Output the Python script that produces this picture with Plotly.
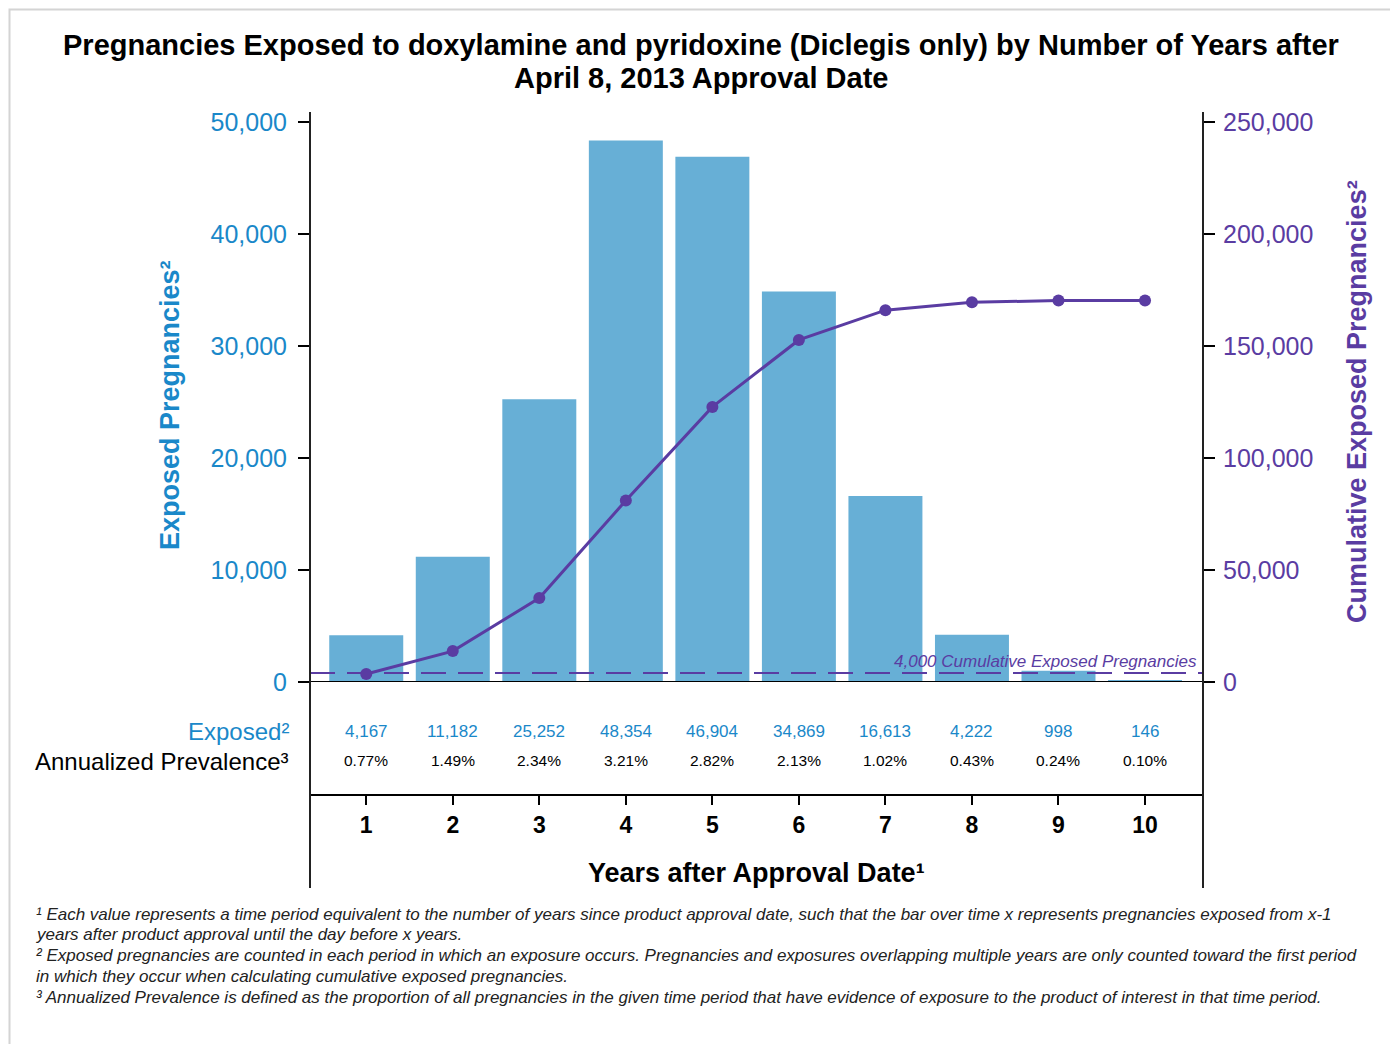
import plotly.graph_objects as go

years = [1, 2, 3, 4, 5, 6, 7, 8, 9, 10]
exposed = [4167, 11182, 25252, 48354, 46904, 34869, 16613, 4222, 998, 146]
cumulative = [3600, 13800, 37500, 81000, 122800, 152700, 166000, 169500, 170300, 170300]
prevalence = ["0.77%", "1.49%", "2.34%", "3.21%", "2.82%", "2.13%", "1.02%", "0.43%", "0.24%", "0.10%"]
threshold = 4000

title_lines = [
    "Pregnancies Exposed to doxylamine and pyridoxine (Diclegis only) by Number of Years after",
    "April 8, 2013 Approval Date",
]
footnotes = [
    "¹ Each value represents a time period equivalent to the number of years since product approval date, such that the bar over time x represents pregnancies exposed from x-1",
    "years after product approval until the day before x years.",
    "² Exposed pregnancies are counted in each period in which an exposure occurs. Pregnancies and exposures overlapping multiple years are only counted toward the first period",
    "in which they occur when calculating cumulative exposed pregnancies.",
    "³ Annualized Prevalence is defined as the proportion of all pregnancies in the given time period that have evidence of exposure to the product of interest in that time period.",
]

FONT = "Liberation Sans, Arial, sans-serif"
BLUE_TXT = "#1a88c9"
BAR = "#67afd6"
PURPLE = "#5a3ca2"

# page has an 8px body margin, so the figure is drawn 8px in from the window edge
OFF = 8
W, H = 1398 - OFF, 1044 - OFF
L, R, T, B = 310, 1203, 112, 888  # plot box in screen pixels


def px_y(y):
    return (B - y) / (B - T)


def px_x(x):
    return (x - L) / (R - L)


def label(x, y, text, size, color, xref="paper", xanchor="center", **kw):
    fig.add_annotation(xref=xref, yref="paper", x=x, y=px_y(y), text=text, showarrow=False,
                       xanchor=xanchor, yanchor="middle",
                       font=dict(family=FONT, size=size, color=color, style=kw.pop("style", "normal")), **kw)


fig = go.Figure()

fig.add_trace(go.Bar(x=years, y=exposed, marker=dict(color=BAR, line=dict(width=0)),
                     yaxis="y", showlegend=False))
fig.add_trace(go.Scatter(x=years, y=cumulative, mode="lines+markers", yaxis="y2",
                         line=dict(color=PURPLE, width=3),
                         marker=dict(color=PURPLE, size=12), showlegend=False))

# threshold line
fig.add_shape(type="line", xref="paper", yref="y2", x0=0, x1=1, y0=threshold, y1=threshold,
              line=dict(color=PURPLE, width=2, dash="25px,12px"))
fig.add_annotation(xref="paper", yref="y2", x=px_x(1199), y=threshold, xanchor="right", yanchor="bottom",
                   yshift=0, text="4,000 Cumulative Exposed Pregnancies", showarrow=False,
                   font=dict(family=FONT, size=17, color=PURPLE, style="italic"))

# frame lines
fig.add_shape(type="line", xref="paper", yref="y", x0=0, x1=1, y0=0, y1=0,
              line=dict(color="black", width=2))
for xx in (0, 1):
    fig.add_shape(type="line", xref="paper", yref="paper", x0=xx, x1=xx, y0=0, y1=1,
                  line=dict(color="#222", width=2))

# title
for txt, yy in zip(title_lines, [45, 78]):
    label(px_x(701), yy, f"<b>{txt}</b>", 29, "black")

# table rows
label(px_x(291), 731, "Exposed²", 24, BLUE_TXT, xanchor="right")
label(px_x(291), 761, "Annualized Prevalence³", 24, "black", xanchor="right")
for yr, e, p in zip(years, exposed, prevalence):
    label(yr, 731, f"{e:,}", 17, BLUE_TXT, xref="x")
    label(yr, 760, p, 15.5, "black", xref="x")

# axis titles
label(0.5, 873, "<b>Years after Approval Date¹</b>", 27, "black")
label(px_x(170), 405, "<b>Exposed Pregnancies²</b>", 27, BLUE_TXT, textangle=-90)
label(px_x(1357), 402, "<b>Cumulative Exposed Pregnancies²</b>", 27, PURPLE, textangle=-90)

# footnotes
for txt, yy in zip(footnotes, [914, 934, 956, 976, 997]):
    label(px_x(34), yy, txt, 17, "#222", xanchor="left", style="italic")

# outer border
fig.add_shape(type="rect", xref="paper", yref="paper", x0=px_x(9.5), x1=px_x(1395), y0=px_y(1060), y1=px_y(9.5),
              line=dict(color="#d4d4d4", width=2))

fig.update_layout(
    width=W, height=H,
    margin=dict(l=L - OFF, r=W - (R - OFF), t=T - OFF, b=H - (B - OFF)),
    paper_bgcolor="white", plot_bgcolor="white",
    bargap=0.145,
    font=dict(family=FONT),
    xaxis=dict(range=[0.35, 10.67], tickvals=years, ticktext=[f"<b>{y}</b>" for y in years],
               anchor="free", position=px_y(795), showline=True, linecolor="black", linewidth=2,
               ticks="outside", ticklen=9, tickwidth=2, tickcolor="black",
               tickfont=dict(family=FONT, size=23, color="black"), showgrid=False, zeroline=False),
    yaxis=dict(domain=[px_y(682), px_y(122)], range=[0, 50000], dtick=10000, tickformat=",",
               ticks="outside", ticklen=11, tickwidth=2, tickcolor="black", showgrid=False,
               ticklabelstandoff=6,
               zeroline=False, showline=False, tickfont=dict(family=FONT, size=25, color=BLUE_TXT)),
    yaxis2=dict(overlaying="y", side="right", range=[0, 250000], dtick=50000, tickformat=",",
                ticks="outside", ticklen=11, tickwidth=2, tickcolor="black", showgrid=False,
                ticklabelstandoff=3,
                zeroline=False, showline=False, tickfont=dict(family=FONT, size=25, color=PURPLE)),
)

fig.write_html("out.html")
